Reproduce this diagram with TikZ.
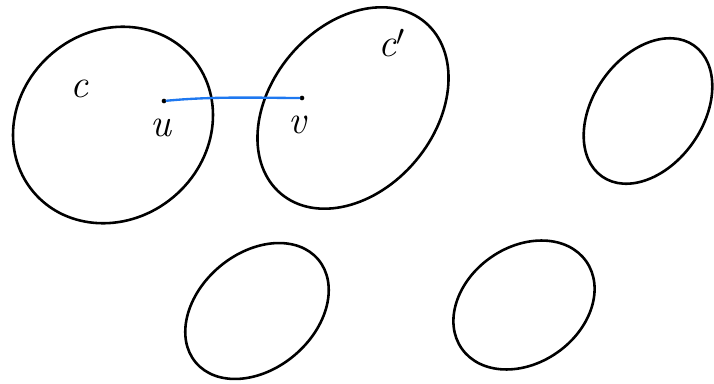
\documentclass[tikz,border=0pt]{standalone}
\usepackage{tikz}
\usetikzlibrary{positioning}
\definecolor{cblue}{HTML}{1E78F0}

\begin{document}
\begin{tikzpicture}[
    x=0.03cm, y=0.03cm,
    blob/.style={line width=2.2pt, line cap=round},
    pt/.style={circle, fill=black, inner sep=0pt, minimum size=4pt},
    lbl/.style={font=\fontsize{34}{34}\selectfont\itshape, inner sep=0pt},
]
\useasboundingbox (0,0) rectangle (714,383);

% --- components (top row) ---
\draw[blob, rotate around={40:(113,258)}] (113,258) ellipse [x radius=104, y radius=94];   % c
\draw[blob, rotate around={50:(353,275)}] (353,275) ellipse [x radius=112, y radius=82];   % c'
\draw[blob, rotate around={55:(648,272)}] (648,272) ellipse [x radius=80, y radius=55];

% --- components (bottom row) ---
\draw[blob, rotate around={40:(257,72)}] (257,72) ellipse [x radius=80, y radius=58];
\draw[blob, rotate around={35:(524,78)}] (524,78) ellipse [x radius=76, y radius=58];

% labels
\node[lbl] (cl) at (79,294) {c};
\node[lbl] (cpl) at (392,340) {c$'$};

% edge u -- v
\node[pt] (u) at (164,282) {};
\node[pt] (v) at (302,285) {};
\node[lbl] (ul) at (161,255) {u};
\node[lbl] (vl) at (297,258) {v};
\draw[cblue, line width=2pt, line cap=round] (u) .. controls (215,287) and (265,285) .. (v);

\end{tikzpicture}
\end{document}
